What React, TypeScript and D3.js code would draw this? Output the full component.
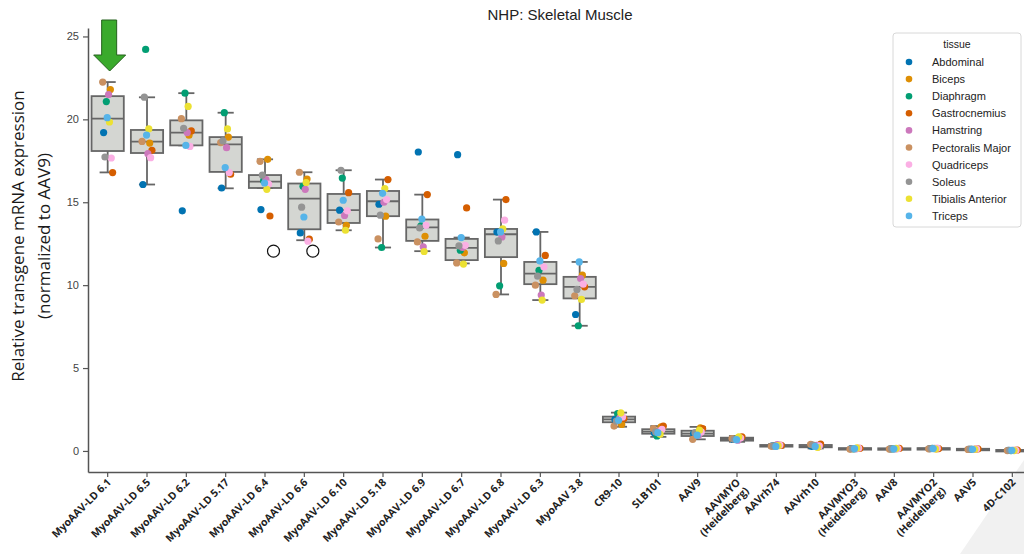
import React, { useEffect, useRef } from "react"
import * as d3 from "d3"

const categories = [
  "MyoAAV-LD 6.1", "MyoAAV-LD 6.5", "MyoAAV-LD 6.2", "MyoAAV-LD 5.17", "MyoAAV-LD 6.4",
  "MyoAAV-LD 6.6", "MyoAAV-LD 6.10", "MyoAAV-LD 5.18", "MyoAAV-LD 6.9", "MyoAAV-LD 6.7",
  "MyoAAV-LD 6.8", "MyoAAV-LD 6.3", "MyoAAV 3.8", "CR9-10", "SLB101", "AAV9",
  "AAVMYO\n(Heidelberg)", "AAVrh74", "AAVrh10", "AAVMYO3\n(Heidelberg)", "AAV8",
  "AAVMYO2\n(Heidelberg)", "AAV5", "4D-C102",
]

const tissues = [
  "Abdominal", "Biceps", "Diaphragm", "Gastrocnemius", "Hamstring",
  "Pectoralis Major", "Quadriceps", "Soleus", "Tibialis Anterior", "Triceps",
]
const tissueColors = [
  "#0173b2", "#de8f05", "#029e73", "#d55e00", "#cc78bc",
  "#ca9161", "#fbafe4", "#949494", "#ece133", "#56b4e9",
]

// one value per category, per tissue
const abdominal = [19.2, 16.07, 14.48, 15.86, 14.56, 13.15, 14.52, 14.88, 18.03, 17.87, 13.2, 13.21, 8.23, 1.9, 1.1, 1.05, 0.7, 0.3, 0.28, 0.14, 0.13, 0.14, 0.1, 0.03]
const biceps = [21.8, 18.57, 19.04, 18.93, 17.59, 16.4, 13.61, 14.16, 12.95, 11.95, 11.31, 10.3, 10.6, 1.6, 1.45, 1.4, 0.8, 0.35, 0.25, 0.15, 0.14, 0.13, 0.11, 0.04]
const diaphragm = [21.07, 24.22, 21.58, 20.4, 16.3, 15.96, 16.46, 12.27, 13.57, 12.11, 9.96, 10.9, 7.55, 2.25, 0.9, 1.0, 0.72, 0.32, 0.3, 0.13, 0.12, 0.15, 0.1, 0.02]
const gastrocnemius = [16.79, 18.13, 19.3, 16.69, 14.17, 12.77, 15.58, 16.37, 15.46, 14.66, 15.16, 11.79, 9.9, 1.95, 1.5, 1.35, 0.85, 0.33, 0.42, 0.16, 0.15, 0.14, 0.12, 0.05]
const hamstring = [21.5, 17.93, 19.2, 18.29, 16.37, 15.78, 14.2, 15.0, 12.31, 12.27, 12.91, 9.4, 10.4, 2.0, 1.2, 0.95, 0.65, 0.38, 0.33, 0.12, 0.13, 0.16, 0.1, 0.03]
const pectoralis = [22.25, 18.67, 20.04, 18.6, 17.47, 16.81, 13.81, 12.79, 12.61, 11.34, 9.44, 10.0, 9.36, 1.5, 1.35, 0.7, 0.75, 0.28, 0.4, 0.1, 0.11, 0.13, 0.09, 0.02]
const quadriceps = [17.67, 17.69, 18.37, 16.79, 16.1, 12.65, 14.48, 15.16, 13.6, 12.4, 13.92, 11.1, 10.06, 2.05, 1.3, 1.15, 0.78, 0.36, 0.3, 0.17, 0.14, 0.17, 0.12, 0.03]
const soleus = [17.73, 21.34, 19.46, 18.7, 16.64, 14.7, 16.93, 14.22, 13.45, 12.37, 12.67, 10.54, 9.74, 1.8, 1.15, 1.1, 0.7, 0.3, 0.35, 0.14, 0.13, 0.14, 0.11, 0.04]
const tibialis = [19.84, 19.42, 20.78, 19.42, 15.78, 16.19, 13.31, 15.83, 12.03, 11.27, 13.39, 9.1, 9.14, 2.3, 1.0, 1.25, 0.85, 0.32, 0.22, 0.18, 0.15, 0.12, 0.1, 0.02]
const triceps = [20.1, 19.05, 18.43, 17.09, 16.16, 14.11, 15.12, 15.54, 13.99, 12.87, 13.21, 11.46, 11.4, 1.85, 1.1, 0.95, 0.68, 0.27, 0.27, 0.14, 0.13, 0.14, 0.1, 0.03]
const tissueValues = [abdominal, biceps, diaphragm, gastrocnemius, hamstring, pectoralis, quadriceps, soleus, tibialis, triceps]

// box statistics, one per category
const boxQ1 = [18.09, 17.97, 18.43, 16.83, 15.86, 13.37, 13.75, 14.16, 12.67, 11.51, 11.69, 10.06, 9.2, 1.73, 1.04, 0.9, 0.62, 0.26, 0.22, 0.11, 0.11, 0.11, 0.08, 0.01]
const boxMedian = [20.04, 18.66, 19.2, 18.49, 16.25, 15.22, 14.52, 15.06, 13.48, 12.25, 13.07, 10.7, 9.9, 1.9, 1.16, 1.05, 0.72, 0.31, 0.28, 0.14, 0.13, 0.14, 0.1, 0.03]
const boxQ3 = [21.4, 19.36, 19.94, 18.93, 16.64, 16.13, 15.5, 15.68, 13.96, 12.79, 13.39, 11.4, 10.5, 2.07, 1.31, 1.22, 0.8, 0.36, 0.36, 0.17, 0.16, 0.17, 0.13, 0.06]
const whiskerLow = [16.8, 16.07, 18.43, 15.84, 15.86, 12.71, 13.31, 12.27, 12.05, 11.31, 9.44, 9.1, 7.55, 1.46, 0.85, 0.7, 0.55, 0.2, 0.15, 0.08, 0.08, 0.08, 0.05, -0.02]
const whiskerHigh = [22.25, 21.33, 21.58, 20.4, 17.59, 16.81, 16.93, 16.37, 15.46, 12.87, 15.16, 13.21, 11.4, 2.31, 1.5, 1.45, 0.9, 0.42, 0.45, 0.2, 0.19, 0.2, 0.16, 0.09]

const yTicks = [0, 5, 10, 15, 20, 25]

export default function App() {
  const ref = useRef<SVGSVGElement>(null)

  useEffect(() => {
    const svg = d3.select(ref.current)
    svg.selectAll("*").remove()

    const left = 88, right = 1032, top = 28, bottom = 472

    const x = d3.scaleBand().domain(categories).range([left, right])
    const y = d3.scaleLinear().domain([-1.27, 25.51]).range([bottom, top])
    const bw = x.bandwidth()
    const cx = (i: number) => (x(categories[i]) as number) + bw / 2

    // slide shading in the corner
    svg.append("polygon")
      .attr("points", "960,554 1024,460 1024,554")
      .attr("fill", "#f1f1f1")

    svg.append("text")
      .attr("x", (left + right) / 2).attr("y", 20)
      .attr("text-anchor", "middle")
      .attr("font-family", "Liberation Sans, Arial, sans-serif")
      .attr("font-size", 15).attr("fill", "#222")
      .text("NHP: Skeletal Muscle")

    // y axis
    const yAxis = svg.append("g")
      .attr("transform", `translate(${left},0)`)
      .call(d3.axisLeft(y).tickValues(yTicks).tickSize(5).tickSizeOuter(0).tickPadding(4))
    yAxis.select(".domain").attr("stroke", "#555").attr("stroke-width", 1.5)
    yAxis.selectAll(".tick line").attr("stroke", "#555").attr("stroke-width", 1.2)
    yAxis.selectAll(".tick text")
      .attr("font-family", "Liberation Sans, Arial, sans-serif")
      .attr("font-size", 11).attr("fill", "#444")

    // x axis
    const xAxis = svg.append("g")
      .attr("transform", `translate(0,${bottom})`)
      .call(d3.axisBottom(x).tickSize(5).tickSizeOuter(0))
    xAxis.select(".domain").attr("stroke", "#555").attr("stroke-width", 1.5)
    xAxis.selectAll(".tick line").attr("stroke", "#555").attr("stroke-width", 1.2)
    xAxis.selectAll(".tick text").remove()

    categories.forEach((c, i) => {
      const lines = c.split("\n")
      const t = svg.append("text")
        .attr("transform", `translate(${cx(i) + 4},${bottom + 11}) rotate(-45)`)
        .attr("text-anchor", "end")
        .attr("font-family", "Open Sans, sans-serif")
        .attr("font-weight", 700)
        .attr("font-size", 10.5)
        .attr("fill", "#222")
      lines.forEach((l, k) => {
        t.append("tspan").attr("x", 0).attr("dy", k === 0 ? 0 : "1.15em").text(l)
      })
    })

    // y label
    const yl = svg.append("text")
      .attr("transform", `translate(24,${(top + bottom) / 2 - 14}) rotate(-90)`)
      .attr("text-anchor", "middle")
      .attr("font-family", "Open Sans, sans-serif")
      .attr("font-size", 17).attr("fill", "#1a1a1a")
    yl.append("tspan").attr("x", 0).attr("dy", 0).text("Relative transgene mRNA expression")
    yl.append("tspan").attr("x", 0).attr("dy", 26).text("(normalized to AAV9)")

    // boxes
    const boxW = bw * 0.82
    const capW = boxW * 0.5
    const boxes = svg.append("g")
    categories.forEach((c, i) => {
      const g = boxes.append("g")
      const xc = cx(i)
      g.append("line")
        .attr("x1", xc).attr("x2", xc)
        .attr("y1", y(whiskerHigh[i])).attr("y2", y(boxQ3[i]))
      g.append("line")
        .attr("x1", xc).attr("x2", xc)
        .attr("y1", y(boxQ1[i])).attr("y2", y(whiskerLow[i]))
      g.append("line")
        .attr("x1", xc - capW / 2).attr("x2", xc + capW / 2)
        .attr("y1", y(whiskerHigh[i])).attr("y2", y(whiskerHigh[i]))
      g.append("line")
        .attr("x1", xc - capW / 2).attr("x2", xc + capW / 2)
        .attr("y1", y(whiskerLow[i])).attr("y2", y(whiskerLow[i]))
      g.append("rect")
        .attr("x", xc - boxW / 2).attr("width", boxW)
        .attr("y", y(boxQ3[i])).attr("height", Math.max(1.5, y(boxQ1[i]) - y(boxQ3[i])))
        .attr("fill", "#d4d6d2")
      g.append("line")
        .attr("x1", xc - boxW / 2).attr("x2", xc + boxW / 2)
        .attr("y1", y(boxMedian[i])).attr("y2", y(boxMedian[i]))
      g.selectAll("line, rect")
        .attr("stroke", "#666").attr("stroke-width", 1.8)
    })

    // strip points
    const jitter = [-0.45, 0.3, -0.15, 0.55, 0.1, -0.55, 0.4, -0.3, 0.2, -0.05]
    const pts = svg.append("g")
    tissueValues.forEach((vals, t) => {
      pts.selectAll(null)
        .data(vals)
        .enter()
        .append("circle")
        .attr("cx", (d, i) => cx(i) + jitter[t] * 9)
        .attr("cy", d => y(d))
        .attr("r", 3.6)
        .attr("fill", tissueColors[t])
    })

    // annotations: arrow over first vector, two open circles
    const ax = cx(0) + 2
    svg.append("path")
      .attr("d", `M${ax},71 L${ax - 16},55 L${ax - 8},55 L${ax - 8},20 L${ax + 7},20 L${ax + 7},55 L${ax + 16},55 Z`)
      .attr("fill", "#3aaa2c").attr("stroke", "#24601c").attr("stroke-width", 1)
    ;[4, 5].forEach(i => {
      svg.append("circle")
        .attr("cx", cx(i) + 8.5).attr("cy", y(12.05))
        .attr("r", 6).attr("fill", "none")
        .attr("stroke", "#111").attr("stroke-width", 1.2)
    })

    // legend
    const lg = svg.append("g").attr("transform", "translate(893,33)")
    lg.append("rect")
      .attr("width", 128).attr("height", 194).attr("rx", 3)
      .attr("fill", "#fff").attr("stroke", "#d8d8d8")
    lg.append("text")
      .attr("x", 64).attr("y", 15).attr("text-anchor", "middle")
      .attr("font-family", "Liberation Sans, Arial, sans-serif")
      .attr("font-size", 10.5).attr("fill", "#222")
      .text("tissue")
    tissues.forEach((t, k) => {
      const yy = 29 + k * 17.1
      lg.append("circle").attr("cx", 16).attr("cy", yy).attr("r", 3.3).attr("fill", tissueColors[k])
      lg.append("text")
        .attr("x", 39).attr("y", yy + 4)
        .attr("font-family", "Liberation Sans, Arial, sans-serif")
        .attr("font-size", 11).attr("fill", "#222")
        .text(t)
    })
  }, [])

  return (
    <svg ref={ref} width={1024} height={554}
      style={{ position: "absolute", left: 0, top: 0, background: "#fff", display: "block" }} />
  )
}
